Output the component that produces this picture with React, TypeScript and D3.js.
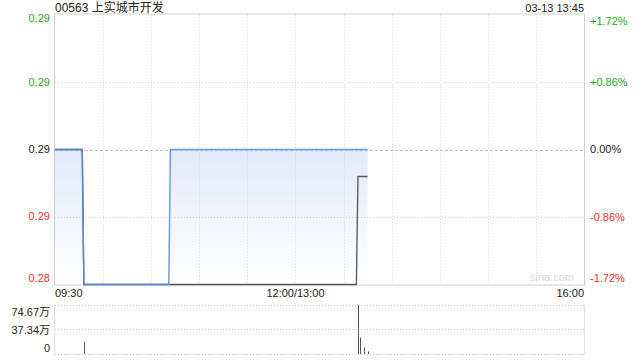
import React from "react";
import * as d3 from "d3";

const title = "00563 上实城市开发";
const stamp = "03-13 13:45";

const priceTimes = ["09:30", "09:47", "09:48", "10:41", "10:42", "13:45"];
const priceValues = [0.29, 0.29, 0.285, 0.285, 0.29, 0.29];

const avgTimes = ["09:30", "09:47", "09:48", "13:38", "13:39", "13:45"];
const avgValues = [0.29, 0.29, 0.285, 0.285, 0.289, 0.289];

const volTimes = ["09:48", "13:39", "13:40", "13:43", "13:45"];
const volValues = [18.5, 74.67, 25.3, 10, 4];

const priceTicks = [0.295, 0.2925, 0.29, 0.2875, 0.285];
const priceLabels = ["0.29", "0.29", "0.29", "0.29", "0.28"];
const pctLabels = ["+1.72%", "+0.86%", "0.00%", "-0.86%", "-1.72%"];
const volTicks = [74.67, 37.34, 0];
const volLabels = ["74.67万", "37.34万", "0"];
const timeLabels = ["09:30", "12:00/13:00", "16:00"];
const timeLabelAt = ["09:30", "13:00", "16:00"];

const toMin = (t: string) => {
  const [h, m] = t.split(":").map(Number);
  let v = h * 60 + m - 570;
  if (v > 150) v -= 60;
  return v;
};

const FONT = "'Liberation Sans', Arial, 'Noto Sans CJK SC', sans-serif";
const GREEN = "#22a822";
const RED = "#e8312c";

export default function App() {
  const L = 55, R = 584, T = 14.5, B = 284.5;
  const x = d3.scaleLinear().domain([0, 330]).range([L, R]);
  const y = d3.scaleLinear().domain([0.285, 0.295]).range([B, T]);
  const vy = d3.scaleLinear().domain([0, 74.67]).range([354, 305]);

  const pData = priceTimes.map((t, i) => ({ m: toMin(t), v: priceValues[i] }));
  const aData = avgTimes.map((t, i) => ({ m: toMin(t), v: avgValues[i] }));

  const line = d3.line<{ m: number; v: number }>().x(d => x(d.m)).y(d => y(d.v));
  const area = d3.area<{ m: number; v: number }>().x(d => x(d.m)).y0(B).y1(d => y(d.v));

  const gridMins = d3.range(30, 330, 30);
  const colorFor = (i: number) => (i < 2 ? GREEN : i === 2 ? "#222" : RED);
  const leftY = [22, 86, 153, 220, 282];
  const rightY = [25, 86, 152.5, 221, 282];

  return (
    <div style={{ position: "fixed", left: 0, top: 0 }}>
      <svg width={640} height={360} style={{ display: "block", fontFamily: FONT }}>
        <defs>
          <linearGradient id="fillG" gradientUnits="userSpaceOnUse" x1="0" y1={y(0.29)} x2="0" y2={B}>
            <stop offset="0" stopColor="#e1eafa" />
            <stop offset="0.85" stopColor="#fbfcff" />
            <stop offset="1" stopColor="#ffffff" />
          </linearGradient>
        </defs>
        <rect x={0} y={0} width={640} height={360} fill="#fff" />
        <text x={L} y={12} fontSize={12} fill="#222">{title}</text>
        <text x={R} y={12} fontSize={11} fill="#222" textAnchor="end">{stamp}</text>

        {/* fill */}
        <path d={area(pData) || ""} fill="url(#fillG)" />

        {/* vertical grid */}
        {gridMins.map(m => (
          <line key={m} x1={Math.round(x(m)) + 0.5} x2={Math.round(x(m)) + 0.5} y1={T} y2={B}
            stroke="#d4d4d4" strokeDasharray="1,2" />
        ))}
        {/* horizontal grid */}
        {priceTicks.slice(1, 4).map((p, i) => (
          <line key={p} x1={L} x2={R} y1={Math.round(y(p)) + 0.5} y2={Math.round(y(p)) + 0.5}
            stroke={i === 1 ? "#bbbbbb" : "#d0d0d0"} strokeDasharray={i === 1 ? "3,2" : "1,2"} />
        ))}
        <rect x={L - 0.5} y={T - 0.5} width={R - L + 1} height={B - T + 1} fill="none" stroke="#cfcfcf" />

        <text x={R - 10} y={B - 4} fontSize={11} fill="#d6d6d6" textAnchor="end">sina.com</text>

        {/* avg line */}
        <path d={line(aData) || ""} fill="none" stroke="#555" strokeWidth={1.3} />
        {/* price line */}
        <path d={line(pData.slice(0, 4)) || ""} fill="none" stroke="#5a88d6" strokeWidth={1.5} />
        <path d={line(pData.slice(3)) || ""} fill="none" stroke="#6b9ae6" strokeWidth={1.5} />

        {/* left labels */}
        {priceLabels.map((s, i) => (
          <text key={i} x={50} y={leftY[i]} fontSize={11} fill={colorFor(i)} textAnchor="end">{s}</text>
        ))}
        {pctLabels.map((s, i) => (
          <text key={i} x={590} y={rightY[i]} fontSize={11} fill={colorFor(i)}>{s}</text>
        ))}

        {/* time labels */}
        {timeLabels.map((s, i) => (
          <text key={s} x={i === 0 ? L : i === 2 ? R : x(toMin(timeLabelAt[i]))} y={297} fontSize={11} fill="#222"
            textAnchor={i === 0 ? "start" : i === 2 ? "end" : "middle"}>{s}</text>
        ))}

        {/* volume panel */}
        <line x1={L - 0.5} x2={L - 0.5} y1={305} y2={354} stroke="#e2e2e2" />
        <line x1={R + 0.5} x2={R + 0.5} y1={305} y2={354} stroke="#e2e2e2" />
        {volTicks.map(v => (
          <line key={v} x1={L} x2={R} y1={Math.round(vy(v)) + 0.5} y2={Math.round(vy(v)) + 0.5}
            stroke="#c4c4c4" strokeDasharray="1,2" />
        ))}
        {volLabels.map((s, i) => (
          <text key={s} x={50} y={[316, 334, 352][i]} fontSize={11} fill="#222" textAnchor="end">{s}</text>
        ))}
        {volTimes.map((t, i) => {
          const xx = Math.round(x(toMin(t))) + 0.5;
          return <line key={t} x1={xx} x2={xx} y1={vy(0)} y2={vy(volValues[i])} stroke="#555" strokeWidth={1} />;
        })}
      </svg>
    </div>
  );
}
